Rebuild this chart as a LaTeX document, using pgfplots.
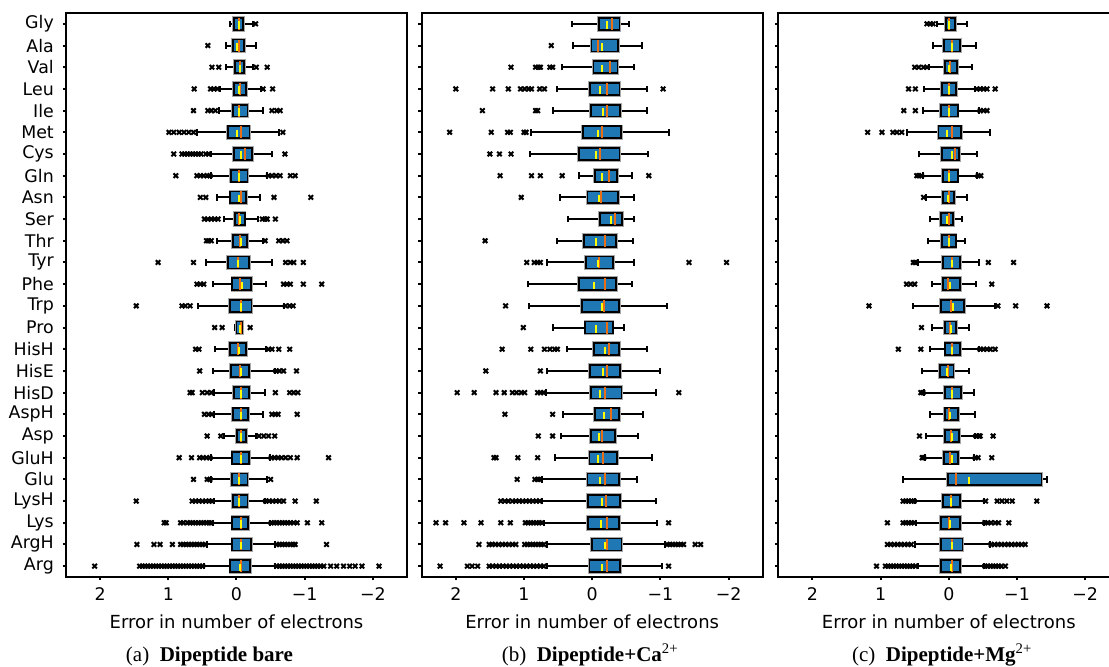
\documentclass[border=0pt]{standalone}
\usepackage{pgfplots}
\pgfplotsset{compat=1.18}
\usepgfplotslibrary{statistics}
\usepackage{fontspec}
\setmainfont{Liberation Serif}
\newfontfamily\dv{DejaVu Sans}
\definecolor{boxblue}{RGB}{31,119,180}
\definecolor{medorange}{RGB}{235,110,20}
\definecolor{meanyellow}{RGB}{255,255,0}
\tikzset{capt/.style={anchor=base, font=\fontsize{10.5}{12}\selectfont, yshift=-42.3pt}}
\pgfplotsset{
  panel/.style={scale only axis, width=170.5pt, height=282pt,
    x dir=reverse, xmin=-2.5, xmax=2.5, ymin=0.5, ymax=26.5,
    xtick={2,1,0,-1,-2}, xticklabels={2,1,0,−1,−2},
    ytick={1,...,26},
    xtick pos=bottom, ytick pos=left,
    tick align=outside, major tick length=1.6pt,
    tick style={line width=1pt, black},
    axis line style={line width=1pt},
    clip=false,
    xticklabel style={font=\dv\fontsize{8.7}{10}\selectfont, anchor=base, yshift=-10.2pt},
    yticklabel style={font=\dv\fontsize{8.7}{10}\selectfont, inner sep=0pt, xshift=-4.3pt},
    xlabel={Error in number of electrons},
    every axis x label/.style={at={(axis description cs:0.5,0)}, anchor=base, yshift=-25.7pt, font=\dv\fontsize{9}{11}\selectfont},
    boxplot/draw direction=x,
    boxplot/box extend=0.55,
    boxplot/whisker extend=0.3,
    boxplot/every box/.style={draw=black, fill=boxblue, line width=0.9pt, preaction={draw=black!35, line width=1.8pt}},
    boxplot/every whisker/.style={black, line width=1pt},
    boxplot/every median/.style={draw=medorange, line width=1pt},
  },
  outl/.style={only marks, mark=x, mark size=1.6pt, mark options={line width=1pt, draw=black}},
  means/.style={only marks, mark=|, mark size=1.9pt, mark options={draw=meanyellow, line width=1pt, yshift=-0.6pt}},
}
\newcommand{\bp}[6]{\addplot[black, solid, line width=1pt, boxplot prepared={draw position=#1, lower whisker=#2, lower quartile=#3, median=#4, upper quartile=#5, upper whisker=#6}] coordinates {};}
\begin{document}
\begin{tikzpicture}
\useasboundingbox (0,0) rectangle (554.5pt,333pt);
\clip (0,0) rectangle (554.5pt,333pt);
% ---------------- (a) Dipeptide bare ----------------
\begin{axis}[panel, at={(33pt,44.5pt)}, anchor=south west,
  yticklabels={Arg,ArgH,Lys,LysH,Glu,GluH,Asp,AspH,HisD,HisE,HisH,Pro,Trp,Phe,Tyr,Thr,Ser,Asn,Gln,Cys,Met,Ile,Leu,Val,Ala,Gly}]
\bp{26}{-0.24}{-0.10}{-0.04}{0.04}{0.10}
\bp{25}{-0.28}{-0.11}{-0.03}{0.05}{0.16}
\bp{24}{-0.24}{-0.11}{-0.05}{0.02}{0.16}
\bp{23}{-0.36}{-0.14}{-0.05}{0.04}{0.24}
\bp{22}{-0.39}{-0.16}{-0.04}{0.05}{0.26}
\bp{21}{-0.62}{-0.19}{-0.06}{0.13}{0.58}
\bp{20}{-0.52}{-0.23}{-0.12}{0.04}{0.38}
\bp{19}{-0.45}{-0.16}{-0.04}{0.08}{0.37}
\bp{18}{-0.34}{-0.14}{-0.06}{0.09}{0.28}
\bp{17}{-0.31}{-0.12}{-0.04}{0.02}{0.19}
\bp{16}{-0.39}{-0.15}{-0.05}{0.05}{0.28}
\bp{15}{-0.52}{-0.18}{-0.02}{0.13}{0.44}
\bp{14}{-0.43}{-0.21}{-0.05}{0.06}{0.34}
\bp{13}{-0.69}{-0.22}{-0.06}{0.10}{0.57}
\bp{12}{-0.10}{-0.08}{-0.06}{0.00}{0.02}
\bp{11}{-0.43}{-0.14}{-0.02}{0.10}{0.31}
\bp{10}{-0.56}{-0.18}{-0.05}{0.08}{0.35}
\bp{9}{-0.42}{-0.18}{-0.06}{0.04}{0.33}
\bp{8}{-0.39}{-0.17}{-0.06}{0.05}{0.33}
\bp{7}{-0.28}{-0.14}{-0.06}{-0.01}{0.18}
\bp{6}{-0.49}{-0.18}{-0.06}{0.06}{0.37}
\bp{5}{-0.45}{-0.16}{-0.04}{0.07}{0.37}
\bp{4}{-0.42}{-0.16}{-0.04}{0.05}{0.33}
\bp{3}{-0.49}{-0.17}{-0.06}{0.06}{0.35}
\bp{2}{-0.57}{-0.21}{-0.06}{0.06}{0.43}
\bp{1}{-0.57}{-0.20}{-0.06}{0.09}{0.47}
\addplot[means] coordinates {(-0.04,26)(-0.01,25)(-0.05,24)(-0.04,23)(-0.04,22)(-0.01,21)(-0.07,20)(-0.04,19)(-0.04,18)(-0.05,17)(-0.06,16)(-0.02,15)(-0.08,14)(-0.06,13)(-0.05,12)(-0.03,11)(-0.06,10)(-0.07,9)(-0.07,8)(-0.07,7)(-0.06,6)(-0.04,5)(-0.04,4)(-0.06,3)(-0.06,2)(-0.05,1)};
\addplot[outl] coordinates {
(-0.28,26)
(0.42,25)
(0.36,24)(0.26,24)(-0.29,24)(-0.45,24)
(0.62,23)(0.38,23)(0.33,23)(0.28,23)(-0.39,23)(-0.53,23)
(0.63,22)(0.42,22)(0.37,22)(0.31,22)(-0.52,22)(-0.59,22)(-0.64,22)
(0.99,21)(0.92,21)(0.84,21)(0.77,21)(0.70,21)(0.63,21)(-0.68,21)
(0.92,20)(0.80,20)(0.76,20)(0.72,20)(0.68,20)(0.64,20)(0.60,20)(0.56,20)(0.52,20)(0.45,20)(0.41,20)(-0.71,20)
(0.89,19)(0.58,19)(0.53,19)(0.48,19)(0.43,19)(0.39,19)(-0.47,19)(-0.52,19)(-0.58,19)(-0.64,19)(-0.79,19)(-0.86,19)
(0.53,18)(0.45,18)(-0.55,18)(-1.09,18)
(0.47,17)(0.42,17)(0.37,17)(0.32,17)(0.27,17)(-0.38,17)(-0.42,17)(-0.45,17)(-0.57,17)
(0.44,16)(0.41,16)(0.37,16)(-0.42,16)(-0.62,16)(-0.68,16)(-0.74,16)
(1.15,15)(0.63,15)(-0.72,15)(-0.79,15)(-0.84,15)(-0.98,15)
(0.58,14)(0.53,14)(0.48,14)(-0.69,14)(-0.74,14)(-0.79,14)(-0.98,14)(-1.25,14)
(1.47,13)(0.80,13)(0.75,13)(0.68,13)(-0.72,13)(-0.78,13)(-0.83,13)
(0.32,12)(0.21,12)(-0.20,12)
(0.60,11)(0.55,11)(-0.47,11)(-0.52,11)(-0.62,11)(-0.78,11)
(0.54,10)(-0.58,10)(-0.63,10)(-0.69,10)(-0.88,10)
(0.68,9)(0.65,9)(0.50,9)(0.43,9)(0.37,9)(-0.57,9)(-0.78,9)(-0.84,9)(-0.90,9)
(0.47,8)(0.41,8)(0.36,8)(-0.52,8)(-0.57,8)(-0.61,8)(-0.89,8)
(0.43,7)(0.23,7)(-0.33,7)(-0.40,7)(-0.47,7)(-0.56,7)
(0.84,6)(0.66,6)(0.54,6)(0.49,6)(0.44,6)(0.39,6)(-0.51,6)(-0.56,6)(-0.61,6)(-0.66,6)(-0.72,6)(-0.79,6)(-0.89,6)(-1.35,6)
(0.63,5)(0.43,5)(0.39,5)(-0.50,5)
(1.47,4)(0.65,4)(0.60,4)(0.55,4)(0.50,4)(0.45,4)(0.40,4)(0.36,4)(-0.43,4)(-0.48,4)(-0.53,4)(-0.58,4)(-0.63,4)(-0.69,4)(-0.86,4)(-1.17,4)
(1.06,3)(1.03,3)(0.82,3)(0.78,3)(0.72,3)(0.68,3)(0.64,3)(0.60,3)(0.56,3)(0.52,3)(0.48,3)(0.44,3)(0.40,3)(0.37,3)(-0.51,3)(-0.55,3)(-0.59,3)(-0.63,3)(-0.67,3)(-0.71,3)(-0.75,3)(-0.79,3)(-0.84,3)(-0.89,3)(-1.04,3)(-1.25,3)
(1.46,2)(1.21,2)(1.12,2)(0.94,2)(0.82,2)(0.78,2)(0.74,2)(0.70,2)(0.66,2)(0.62,2)(0.58,2)(0.54,2)(0.50,2)(0.46,2)(-0.59,2)(-0.63,2)(-0.67,2)(-0.71,2)(-0.75,2)(-0.79,2)(-0.83,2)(-0.86,2)(-1.32,2)
(2.08,1)(1.42,1)(1.38,1)(1.34,1)(1.30,1)(1.26,1)(1.22,1)(1.18,1)(1.14,1)(1.10,1)(1.06,1)(1.02,1)(0.98,1)(0.94,1)(0.90,1)(0.86,1)(0.82,1)(0.78,1)(0.74,1)(0.70,1)(0.66,1)(0.62,1)(0.58,1)(0.54,1)(0.50,1)
(-0.59,1)(-0.63,1)(-0.67,1)(-0.71,1)(-0.75,1)(-0.79,1)(-0.83,1)(-0.87,1)(-0.91,1)(-0.95,1)(-0.99,1)(-1.03,1)(-1.07,1)(-1.11,1)(-1.15,1)(-1.19,1)(-1.23,1)(-1.28,1)(-1.38,1)(-1.47,1)(-1.57,1)(-1.66,1)(-1.74,1)(-1.84,1)(-2.09,1)
};
\node[capt, xshift=-13.5pt] at (rel axis cs:0.5,0) {(a)\hspace{0.5em}\textbf{Dipeptide bare}};
\end{axis}
% ---------------- (b) Dipeptide+Ca ----------------
\begin{axis}[panel, at={(210.85pt,44.5pt)}, anchor=south west, yticklabels={}]
\bp{26}{-0.54}{-0.40}{-0.29}{-0.10}{0.29}
\bp{25}{-0.73}{-0.38}{-0.09}{0.01}{0.28}
\bp{24}{-0.62}{-0.37}{-0.26}{-0.02}{0.45}
\bp{23}{-0.80}{-0.40}{-0.21}{0.03}{0.51}
\bp{22}{-0.80}{-0.41}{-0.21}{0.02}{0.57}
\bp{21}{-1.13}{-0.42}{-0.15}{0.14}{0.89}
\bp{20}{-0.82}{-0.40}{-0.11}{0.19}{0.91}
\bp{19}{-0.58}{-0.36}{-0.24}{-0.04}{0.20}
\bp{18}{-0.62}{-0.38}{-0.13}{0.07}{0.47}
\bp{17}{-0.62}{-0.44}{-0.33}{-0.11}{0.35}
\bp{16}{-0.60}{-0.35}{-0.19}{0.12}{0.51}
\bp{15}{-0.62}{-0.31}{-0.10}{0.09}{0.66}
\bp{14}{-0.59}{-0.35}{-0.19}{0.19}{0.94}
\bp{13}{-1.10}{-0.39}{-0.17}{0.15}{0.92}
\bp{12}{-0.46}{-0.30}{-0.22}{0.10}{0.57}
\bp{11}{-0.80}{-0.39}{-0.25}{-0.03}{0.37}
\bp{10}{-1.00}{-0.41}{-0.21}{0.03}{0.66}
\bp{9}{-0.93}{-0.43}{-0.19}{0.02}{0.68}
\bp{8}{-0.74}{-0.39}{-0.27}{-0.04}{0.43}
\bp{7}{-0.67}{-0.33}{-0.14}{0.02}{0.46}
\bp{6}{-0.88}{-0.36}{-0.16}{0.04}{0.55}
\bp{5}{-0.66}{-0.39}{-0.19}{0.07}{0.73}
\bp{4}{-0.94}{-0.41}{-0.20}{0.06}{0.73}
\bp{3}{-0.95}{-0.39}{-0.22}{0.06}{0.70}
\bp{2}{-1.07}{-0.43}{-0.22}{0.00}{0.66}
\bp{1}{-1.02}{-0.41}{-0.22}{0.04}{0.67}
\addplot[means] coordinates {(-0.21,26)(-0.14,25)(-0.15,24)(-0.11,23)(-0.16,22)(-0.08,21)(-0.06,20)(-0.15,19)(-0.10,18)(-0.28,17)(-0.06,16)(-0.09,15)(-0.03,14)(-0.14,13)(-0.06,12)(-0.19,11)(-0.16,10)(-0.12,9)(-0.18,8)(-0.10,7)(-0.08,6)(-0.12,5)(-0.15,4)(-0.13,3)(-0.19,2)(-0.14,1)};
\addplot[outl] coordinates {
(0.60,25)
(1.19,24)(0.83,24)(0.79,24)(0.76,24)(0.62,24)(0.58,24)
(2.00,23)(1.46,23)(1.23,23)(1.05,23)(0.99,23)(0.93,23)(0.89,23)(0.77,23)(0.70,23)(-1.04,23)
(1.61,22)(0.83,22)(0.80,22)
(2.09,21)(1.48,21)(1.24,21)(1.20,21)(1.00,21)(0.97,21)
(1.50,20)(1.36,20)(1.19,20)
(1.35,19)(0.89,19)(0.76,19)(0.44,19)(-0.83,19)
(1.04,18)
(1.57,16)
(0.96,15)(0.85,15)(0.80,15)(0.76,15)(-1.42,15)(-1.97,15)
(1.27,13)
(1.01,12)
(1.32,11)(0.90,11)(0.70,11)(0.62,11)(0.55,11)(0.51,11)
(1.56,10)(0.76,10)
(1.98,9)(1.73,9)(1.41,9)(1.29,9)(1.17,9)(1.11,9)(1.04,9)(0.99,9)(0.80,9)(0.76,9)(0.71,9)(-1.27,9)
(1.28,8)(0.58,8)
(0.79,7)(0.58,7)
(1.44,6)(1.41,6)(1.09,6)(0.80,6)
(1.10,5)(0.84,5)(0.80,5)(0.77,5)
(1.34,4)(1.28,4)(1.23,4)(1.17,4)(1.12,4)(1.07,4)(1.02,4)(0.97,4)(0.92,4)(0.87,4)(0.82,4)(0.77,4)
(2.29,3)(2.15,3)(1.88,3)(1.63,3)(1.34,3)(1.20,3)(0.98,3)(0.94,3)(0.90,3)(0.86,3)(0.82,3)(0.78,3)(0.74,3)(-1.12,3)
(1.66,2)(1.51,2)(1.47,2)(1.42,2)(1.37,2)(1.32,2)(1.27,2)(1.22,2)(1.17,2)(1.12,2)(0.99,2)(0.95,2)(0.91,2)(0.87,2)(0.83,2)(0.79,2)(0.75,2)(0.71,2)(-1.10,2)(-1.14,2)(-1.18,2)(-1.22,2)(-1.26,2)(-1.30,2)(-1.34,2)(-1.51,2)(-1.59,2)
(2.23,1)(1.83,1)(1.76,1)(1.68,1)(1.51,1)(1.46,1)(1.41,1)(1.36,1)(1.31,1)(1.26,1)(1.21,1)(1.16,1)(1.11,1)(1.06,1)(1.01,1)(0.96,1)(0.91,1)(0.86,1)(0.81,1)(0.76,1)(0.71,1)(-1.12,1)
};
\node[capt, xshift=-1pt] at (rel axis cs:0.5,0) {(b)\hspace{0.5em}\textbf{Dipeptide+Ca}\textsuperscript{2+}};
\end{axis}
% ---------------- (c) Dipeptide+Mg ----------------
\begin{axis}[panel, at={(389.15pt,44.5pt)}, anchor=south west, yticklabels={}]
\bp{26}{-0.26}{-0.09}{0.00}{0.04}{0.18}
\bp{25}{-0.40}{-0.16}{-0.05}{0.07}{0.23}
\bp{24}{-0.34}{-0.12}{-0.02}{0.06}{0.29}
\bp{23}{-0.39}{-0.11}{-0.01}{0.10}{0.37}
\bp{22}{-0.45}{-0.13}{0.00}{0.11}{0.38}
\bp{21}{-0.60}{-0.18}{-0.04}{0.15}{0.62}
\bp{20}{-0.41}{-0.15}{-0.09}{0.10}{0.43}
\bp{19}{-0.41}{-0.13}{0.00}{0.09}{0.38}
\bp{18}{-0.27}{-0.08}{-0.01}{0.09}{0.33}
\bp{17}{-0.19}{-0.06}{0.00}{0.12}{0.28}
\bp{16}{-0.24}{-0.10}{-0.01}{0.10}{0.31}
\bp{15}{-0.44}{-0.17}{-0.04}{0.09}{0.45}
\bp{14}{-0.40}{-0.16}{0.01}{0.09}{0.25}
\bp{13}{-0.68}{-0.22}{-0.03}{0.11}{0.53}
\bp{12}{-0.29}{-0.11}{-0.02}{0.06}{0.24}
\bp{11}{-0.45}{-0.16}{-0.04}{0.05}{0.28}
\bp{10}{-0.29}{-0.07}{0.01}{0.13}{0.40}
\bp{9}{-0.37}{-0.18}{-0.04}{0.06}{0.37}
\bp{8}{-0.39}{-0.14}{0.00}{0.06}{0.27}
\bp{7}{-0.39}{-0.15}{-0.03}{0.06}{0.33}
\bp{6}{-0.37}{-0.14}{-0.02}{0.07}{0.35}
\bp{5}{-1.44}{-1.36}{-0.11}{0.01}{0.67}
\bp{4}{-0.51}{-0.16}{-0.03}{0.09}{0.49}
\bp{3}{-0.51}{-0.16}{-0.01}{0.11}{0.48}
\bp{2}{-0.61}{-0.20}{-0.04}{0.11}{0.50}
\bp{1}{-0.51}{-0.16}{-0.04}{0.11}{0.45}
\addplot[means] coordinates {(-0.01,26)(-0.05,25)(-0.01,24)(-0.01,23)(-0.01,22)(0.02,21)(-0.05,20)(-0.01,19)(0.01,18)(0.02,17)(0.00,16)(-0.04,15)(-0.02,14)(-0.06,13)(-0.03,12)(-0.05,11)(0.02,10)(-0.04,9)(-0.02,8)(-0.04,7)(-0.04,6)(-0.30,5)(-0.03,4)(-0.02,3)(-0.04,2)(-0.03,1)};
\addplot[outl] coordinates {
(0.32,26)(0.27,26)(0.23,26)
(0.50,24)(0.44,24)(0.37,24)(0.32,24)
(0.59,23)(0.49,23)(-0.41,23)(-0.46,23)(-0.51,23)(-0.56,23)(-0.68,23)
(0.66,22)(0.49,22)(-0.46,22)(-0.51,22)(-0.56,22)
(1.19,21)(0.98,21)(0.82,21)(0.76,21)(0.69,21)
(0.47,19)(0.44,19)(0.40,19)(-0.43,19)(-0.47,19)
(0.37,18)
(0.52,15)(0.49,15)(-0.58,15)(-0.95,15)
(0.62,14)(0.56,14)(0.50,14)(-0.63,14)
(1.17,13)(-0.72,13)(-0.98,13)(-1.44,13)
(0.40,12)
(0.74,11)(0.41,11)(-0.46,11)(-0.51,11)(-0.56,11)(-0.61,11)(-0.68,11)
(0.41,9)(0.38,9)
(0.43,7)(-0.40,7)(-0.44,7)(-0.46,7)(-0.65,7)
(0.39,6)(0.37,6)(-0.39,6)(-0.43,6)(-0.63,6)
(0.67,4)(0.63,4)(0.59,4)(0.55,4)(0.51,4)(-0.54,4)(-0.71,4)(-0.78,4)(-0.85,4)(-0.93,4)(-1.29,4)
(0.90,3)(0.67,3)(0.63,3)(0.59,3)(0.55,3)(0.51,3)(-0.53,3)(-0.57,3)(-0.62,3)(-0.68,3)(-0.73,3)(-0.88,3)
(0.90,2)(0.85,2)(0.80,2)(0.75,2)(0.70,2)(0.65,2)(0.60,2)(0.55,2)(-0.62,2)(-0.67,2)(-0.72,2)(-0.77,2)(-0.82,2)(-0.87,2)(-0.92,2)(-0.97,2)(-1.02,2)(-1.07,2)(-1.12,2)
(1.06,1)(0.93,1)(0.89,1)(0.85,1)(0.81,1)(0.77,1)(0.73,1)(0.69,1)(0.65,1)(0.61,1)(0.57,1)(0.53,1)(0.49,1)(-0.53,1)(-0.57,1)(-0.61,1)(-0.65,1)(-0.69,1)(-0.73,1)(-0.77,1)(-0.83,1)
};
\node[capt, xshift=-3.3pt] at (rel axis cs:0.5,0) {(c)\hspace{0.5em}\textbf{Dipeptide+Mg}\textsuperscript{2+}};
\end{axis}
\end{tikzpicture}
\end{document}
